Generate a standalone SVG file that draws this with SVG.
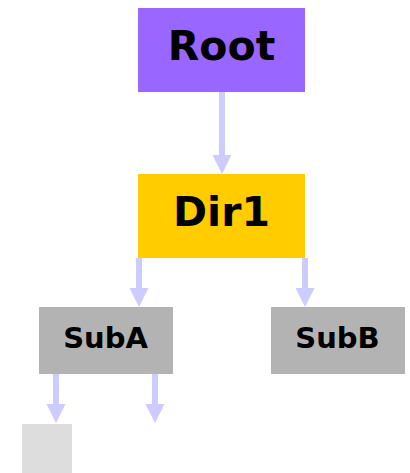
<svg xmlns="http://www.w3.org/2000/svg" width="410" height="473" viewBox="0 0 410 473">
<defs>
<style>
.lbl{font-family:"DejaVu Sans",Verdana,sans-serif;font-weight:bold;fill:#000;text-anchor:middle}
.big{font-size:41px}
.small{font-size:29px}
.edge{stroke:#ccccff;stroke-width:6;fill:none}
.head{fill:#ccccff}
</style>
</defs>
<rect width="410" height="473" fill="#fff"/>
<g id="connectors">
<line class="edge" x1="222" y1="92" x2="222" y2="157"/>
<polygon class="head" points="212.5,155 231.5,155 222,174"/>
<line class="edge" x1="139" y1="258" x2="139" y2="290"/>
<polygon class="head" points="129.5,288 148.5,288 139,307"/>
<line class="edge" x1="305" y1="258" x2="305" y2="290"/>
<polygon class="head" points="295.5,288 314.5,288 305,307"/>
<line class="edge" x1="56" y1="374" x2="56" y2="406"/>
<polygon class="head" points="46.5,404 65.5,404 56,423"/>
<line class="edge" x1="155" y1="374" x2="155" y2="406"/>
<polygon class="head" points="145.5,404 164.5,404 155,423"/>
</g>
<g id="root">
<rect x="138" y="8" width="167" height="84" fill="#9966ff"/>
<text class="lbl big" x="221.5" y="60">Root</text>
</g>
<g id="dir1">
<rect x="138" y="174" width="167" height="84" fill="#ffcc00"/>
<text class="lbl big" x="221.5" y="226">Dir1</text>
</g>
<g id="suba">
<rect x="39" y="307" width="134" height="67" fill="#b3b3b3"/>
<text class="lbl small" x="105.5" y="348">SubA</text>
</g>
<g id="subb">
<rect x="271" y="307" width="134" height="67" fill="#b3b3b3"/>
<text class="lbl small" x="337.5" y="348">SubB</text>
</g>
<g id="leaf">
<rect x="22" y="424" width="50" height="49" fill="#dddddd"/>
</g>
</svg>
